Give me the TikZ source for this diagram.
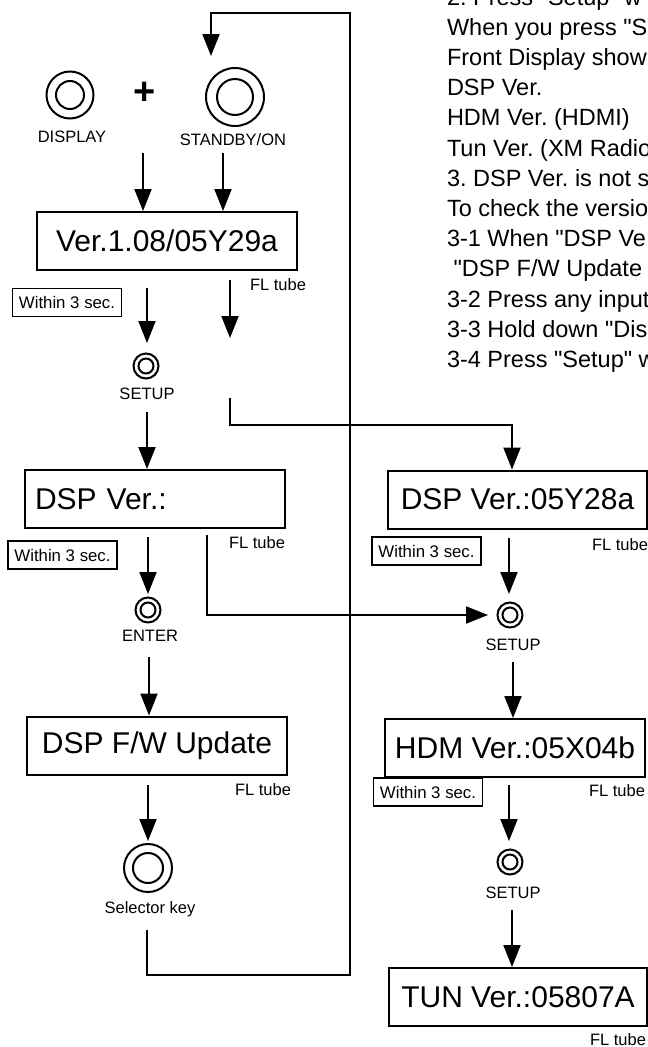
\documentclass[tikz,border=0pt]{standalone}
\usepackage{fontspec}
\setmainfont{Liberation Sans}[Ligatures=TeXOff]
\usetikzlibrary{arrows.meta}
\begin{document}
\frenchspacing
\begin{tikzpicture}[x=1pt,y=-1pt,line width=2pt,
  arr/.style={-{Triangle[length=22pt,width=17pt]}},
  bigbox/.style={draw,line width=2pt,minimum width=260pt,minimum height=58pt,font=\fontsize{30}{36}\selectfont,inner sep=0pt},
  lbl/.style={font=\fontsize{16.5}{19}\selectfont,inner sep=0pt},
  wbox/.style={draw,line width=1.8pt,font=\fontsize{16.8}{19}\selectfont,minimum height=28pt,minimum width=109pt,inner sep=0pt},
  rtxt/.style={anchor=base west,inner sep=0pt,font=\fontsize{23.5}{28}\selectfont},
  btn/.style={draw,circle,inner sep=0pt,minimum size=#1},
]
\useasboundingbox (0,0) rectangle (648,1047);
\clip (0,0) rectangle (648,1047);

% ---- right text column
\foreach \t [count=\i from 0] in {%
  {2. Press "Setup" w},
  {When you press "S},
  {Front Display show},
  {DSP Ver.},
  {HDM Ver. (HDMI)},
  {Tun Ver. (XM Radio},
  {3. DSP Ver. is not s},
  {To check the versio},
  {3-1 When "DSP Ve},
  {\ "DSP F/W Update},
  {3-2 Press any input},
  {3-3 Hold down "Dis},
  {3-4 Press "Setup" w}}
  \node[rtxt] (t\i) at (446,{5+\i*30.2}) {\t};

% ---- buttons
\node[btn=47pt] (bDisp) at (70,95) {};
\draw (bDisp.center) circle[radius=14pt];
\node[btn=58pt] (bStby) at (235,97) {};
\draw (bStby.center) circle[radius=18pt];
\node[font=\fontsize{38}{38}\selectfont\bfseries,inner sep=0pt] (plus) at (145,93) {+};
\node[lbl] (lDisp) at (72,137) {DISPLAY};
\node[lbl] (lStby) at (233,140) {STANDBY/ON};

\node[btn=25pt] (bS1) at (146,366) {};
\draw (bS1.center) circle[radius=7.5pt];
\node[lbl] (lS1) at (147,394) {SETUP};

\node[btn=25pt] (bEnt) at (148,610) {};
\draw (bEnt.center) circle[radius=7.5pt];
\node[lbl] (lEnt) at (150,636) {ENTER};

\node[btn=48pt] (bSel) at (148,868) {};
\draw (bSel.center) circle[radius=15pt];
\node[lbl] (lSel) at (150,909) {Selector key};

\node[btn=25pt] (bS2) at (510,615) {};
\draw (bS2.center) circle[radius=7.5pt];
\node[lbl] (lS2) at (513,645) {SETUP};

\node[btn=25pt] (bS3) at (510,862) {};
\draw (bS3.center) circle[radius=7.5pt];
\node[lbl] (lS3) at (513,893) {SETUP};

% ---- display boxes
\node[bigbox] (box1) at (167,241) {Ver.1.08/05Y29a};
\node[bigbox,text width=240pt,align=left,inner xsep=10pt] (dspL) at (155,499) {DSP Ver.:};
\node[bigbox] (dspF) at (157,745.5) {DSP F/W Update};
\node[bigbox,minimum width=259pt] (dspR) at (517.5,499.5) {DSP Ver.:05Y28a};
\node[bigbox] (hdm) at (515,748) {HDM Ver.:05X04b};
\node[bigbox,minimum width=258pt] (tun) at (518,997) {TUN Ver.:05807A};

% ---- FL tube labels
\node[lbl] (f1) at (278,285) {FL tube};
\node[lbl] (f2) at (257,543) {FL tube};
\node[lbl] (f3) at (263,790) {FL tube};
\node[lbl] (f4) at (620,545) {FL tube};
\node[lbl] (f5) at (617,791) {FL tube};
\node[lbl] (f6) at (618,1040) {FL tube};

% ---- Within 3 sec. boxes
\node[wbox] (w1) at (67,302.5) {Within 3 sec.};
\node[wbox] (w2) at (62.5,555) {Within 3 sec.};
\node[wbox] (w3) at (426.5,551) {Within 3 sec.};
\node[wbox] (w4) at (428,792) {Within 3 sec.};

% ---- connectors
\coordinate (a1) at (143,153);
\coordinate (a2) at (223,153);
\draw[arr] (a1) -- (a1 |- box1.north);
\draw[arr] (a2) -- (a2 |- box1.north);

\coordinate (a3s) at (147,288); \coordinate (a3e) at (147,343);
\draw[arr] (a3s) -- (a3e);
\coordinate (a5) at (147,412);
\draw[arr] (a5) -- (a5 |- dspL.north);
\coordinate (a6s) at (148,537); \coordinate (a6e) at (148,594);
\draw[arr] (a6s) -- (a6e);
\coordinate (a8) at (149,657);
\draw[arr] (a8) -- (a8 |- dspF.north);
\coordinate (a9s) at (148,785); \coordinate (a9e) at (148,841);
\draw[arr] (a9s) -- (a9e);

\coordinate (a10s) at (509,538); \coordinate (a10e) at (509,594);
\draw[arr] (a10s) -- (a10e);
\coordinate (a11) at (513,662);
\draw[arr] (a11) -- (a11 |- hdm.north);
\coordinate (a12s) at (509,785); \coordinate (a12e) at (509,841);
\draw[arr] (a12s) -- (a12e);
\coordinate (a13) at (512,910);
\draw[arr] (a13) -- (a13 |- tun.north);

% FL tube branch from box1
\coordinate (fa) at (230,280); \coordinate (fb) at (230,338);
\draw[arr] (fa) -- (fb);
\coordinate (fc) at (230,398); \coordinate (fd) at (512,425);
\draw[arr] (fc) |- (fd) -- (fd |- dspR.north);

% branch from DSP Ver.: to right SETUP
\coordinate (ga) at (207,535); \coordinate (gb) at (488,615);
\draw[arr] (ga) |- (gb);

% loop back
\coordinate (la) at (147,930); \coordinate (lb) at (350,975);
\coordinate (lc) at (211,13); \coordinate (ld) at (211,56);
\draw[arr] (la) |- (lb) |- (lc) -- (ld);
\end{tikzpicture}
\end{document}
